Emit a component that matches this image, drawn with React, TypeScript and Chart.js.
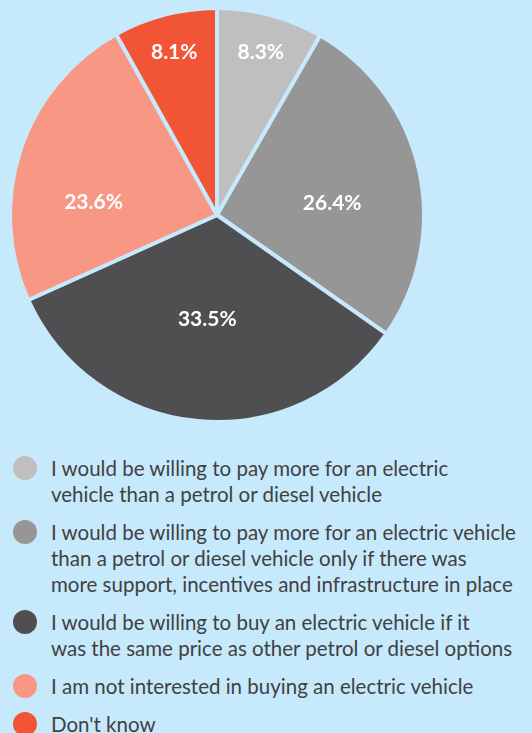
import React, { useEffect, useRef } from "react";
import { Chart, registerables } from "chart.js";

Chart.register(...registerables);

const categories: string[][] = [
  ["I would be willing to pay more for an electric", "vehicle than a petrol or diesel vehicle"],
  [
    "I would be willing to pay more for an electric vehicle",
    "than a petrol or diesel vehicle only if there was",
    "more support, incentives and infrastructure in place",
  ],
  ["I would be willing to buy an electric vehicle if it", "was the same price as other petrol or diesel options"],
  ["I am not interested in buying an electric vehicle"],
  ["Don't know"],
];
const values: number[] = [8.3, 26.4, 33.5, 23.6, 8.1];
const colors: string[] = ["#bfbfbf", "#969696", "#4f4f51", "#f79784", "#f25535"];

const BG = "#c6e9fb";
const FONT = "Lato, 'Noto Sans', sans-serif";

// label placement (style): radius fraction and angle nudge (degrees) per slice
const labelRadius = [0.82, 0.56, 0.5, 0.6, 0.82];
const labelNudge = [0, 6, 0, -12, 0];

const pieLabels = {
  id: "pieLabels",
  afterDatasetsDraw(chart: any) {
    const ctx = chart.ctx;
    const meta = chart.getDatasetMeta(0);
    ctx.save();
    ctx.fillStyle = "#ffffff";
    ctx.font = `bold 21px ${FONT}`;
    ctx.textAlign = "center";
    ctx.textBaseline = "middle";
    meta.data.forEach((arc: any, i: number) => {
      const p = arc.getProps(["x", "y", "startAngle", "endAngle", "outerRadius"], true);
      const mid = (p.startAngle + p.endAngle) / 2 + (labelNudge[i] * Math.PI) / 180;
      const r = p.outerRadius * labelRadius[i];
      ctx.fillText(`${values[i]}%`, p.x + Math.cos(mid) * r, p.y + Math.sin(mid) * r + 1);
    });
    ctx.restore();
  },
};

export default function App() {
  const ref = useRef<HTMLCanvasElement | null>(null);

  useEffect(() => {
    document.body.style.margin = "0";
    document.body.style.background = BG;
    if (!ref.current) return;
    const chart = new Chart(ref.current, {
      type: "pie",
      data: {
        labels: categories.map((c) => c.join(" ")),
        datasets: [
          {
            data: values,
            backgroundColor: colors,
            borderColor: BG,
            borderWidth: 4,
          },
        ],
      },
      options: {
        responsive: false,
        animation: false,
        layout: { padding: { left: 8, right: 106, top: 6, bottom: 6 } },
        plugins: {
          legend: { display: false },
          tooltip: { enabled: false },
        },
      },
      plugins: [pieLabels],
    });
    return () => chart.destroy();
  }, []);

  return (
    <div style={{ width: 532, height: 733, background: BG, position: "relative", overflow: "hidden" }}>
      <canvas ref={ref} width={532} height={430} style={{ display: "block" }} />
      <div style={{ position: "absolute", left: 0, top: 455, width: 532 }}>
        {categories.map((lines, i) => (
          <div key={i} style={{ position: "relative", marginBottom: 12, paddingLeft: 51 }}>
            <span
              style={{
                position: "absolute",
                left: 13,
                top: 1,
                width: 24,
                height: 24,
                borderRadius: "50%",
                background: colors[i],
              }}
            />
            {lines.map((l, j) => (
              <div
                key={j}
                style={{
                  fontFamily: FONT,
                  fontSize: 20.5,
                  lineHeight: "26px",
                  color: "#414143",
                  whiteSpace: "nowrap",
                }}
              >
                {l}
              </div>
            ))}
          </div>
        ))}
      </div>
    </div>
  );
}
